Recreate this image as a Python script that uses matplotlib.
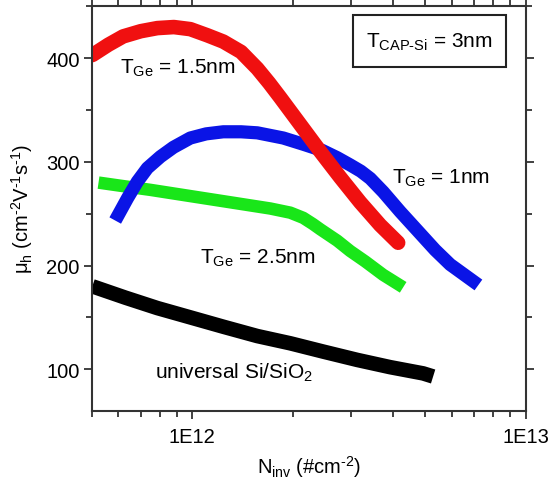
import numpy as np
import matplotlib
matplotlib.use('Agg')
import matplotlib.pyplot as plt
from matplotlib.patches import Rectangle
from matplotlib.ticker import LogLocator, FixedLocator, MultipleLocator, NullFormatter

plt.rcParams['font.family'] = ['Liberation Sans', 'DejaVu Sans']
plt.rcParams['mathtext.fontset'] = 'custom'
plt.rcParams['mathtext.rm'] = 'Liberation Sans'
plt.rcParams['mathtext.it'] = 'Liberation Sans:italic'

# T_Ge = 1.5nm (red)
n_red = [5.01e11, 5.6e11, 6.2e11, 7.0e11, 7.85e11, 8.8e11, 9.86e11, 1.11e12,
         1.238e12, 1.4e12, 1.566e12, 1.7e12, 1.835e12, 2.107e12, 2.419e12,
         2.777e12, 3.187e12, 3.660e12, 4.143e12]
mu_red = [403, 413, 421, 426, 429, 430, 428, 422, 416, 406, 390, 376, 362, 336,
          310, 285, 261, 239, 222]

# T_Ge = 1nm (blue)
n_blue = [6.00e11, 6.39e11, 6.84e11, 7.33e11, 8.02e11, 8.77e11, 9.86e11, 1.1e12,
          1.238e12, 1.4e12, 1.566e12, 1.874e12, 2.151e12, 2.453e12, 2.720e12,
          2.975e12, 3.2e12, 3.416e12, 3.737e12, 4.201e12, 4.725e12, 5.349e12,
          5.933e12, 6.951e12]
mu_blue = [249, 265, 281, 294, 305, 314, 323, 327, 329, 329, 328, 323, 317, 311,
           304, 297, 291, 284, 271, 252, 234, 215, 201, 185]

# T_Ge = 2.5nm (green)
n_green = [5.23e11, 6.08e11, 7.48e11, 9.86e11, 1.300e12, 1.713e12, 1.967e12,
           2.151e12, 2.3e12, 2.419e12, 2.720e12, 2.975e12, 3.299e12, 3.737e12,
           4.289e12]
mu_green = [280, 277, 273, 267, 261, 255, 251, 246, 240, 235, 224, 214, 204, 191,
            179]

# universal Si/SiO2 (black)
n_univ = [5.01e11, 6.30e11, 7.85e11, 9.86e11, 1.238e12, 1.566e12, 1.967e12,
          2.470e12, 3.122e12, 3.921e12, 4.923e12, 5.275e12]
mu_univ = [180, 169, 159, 150, 141, 132, 125, 117, 109, 102, 96, 93]

fig = plt.figure(figsize=(5.52, 4.85), dpi=100)
ax = fig.add_axes([0.1667, 0.1511, 0.7857, 0.8338])

ax.plot(n_univ, mu_univ, color='black', lw=10.5, solid_capstyle='butt', solid_joinstyle='round')
ax.plot(n_green, mu_green, color='#19e619', lw=9, solid_capstyle='butt', solid_joinstyle='round')
ax.plot(n_blue, mu_blue, color='#0a14e6', lw=9.5, solid_capstyle='projecting', solid_joinstyle='round')
ax.plot(n_red, mu_red, color='#f01010', lw=10.5, solid_capstyle='round', solid_joinstyle='round')

ax.set_xscale('log')
ax.set_xlim(5e11, 1e13)
ax.set_ylim(60, 450)

ax.xaxis.set_major_locator(FixedLocator([1e12, 1e13]))
ax.set_xticklabels(['1E12', '1E13'])
ax.xaxis.set_minor_locator(LogLocator(base=10, subs=np.arange(2, 10)))
ax.xaxis.set_minor_formatter(NullFormatter())
ax.yaxis.set_major_locator(MultipleLocator(100))
ax.yaxis.set_minor_locator(MultipleLocator(50))

ax.tick_params(which='both', labelsize=14.5, colors='#333333', labelcolor='black', width=1.3)
ax.tick_params(axis='x', which='both', top=True, bottom=True)
ax.tick_params(axis='y', which='both', left=True, right=True)
ax.tick_params(which='major', length=6, pad=3)
ax.tick_params(which='minor', length=4)
ax.tick_params(axis='x', which='major', pad=6)
ax.tick_params(axis='x', which='both', labeltop=False)
for s in ax.spines.values():
    s.set_linewidth(1.5)
    s.set_color('#333333')

ax.set_xlabel(r'N$_{\rm inv}$ (#cm$^{\text{-}2}$)', fontsize=14.5, labelpad=5)
ax.set_ylabel(r'μ$_{\rm h}$ (cm$^{\text{-}2}$V$^{\text{-}1}$s$^{\text{-}1}$)', fontsize=14.5, labelpad=8)

ax.text(6.08e11, 386, r'T$_{\rm Ge}$ = 1.5nm', fontsize=15, va='baseline')
ax.text(3.97e12, 280, r'T$_{\rm Ge}$ = 1nm', fontsize=15, va='baseline')
ax.text(1.057e12, 203, r'T$_{\rm Ge}$ = 2.5nm', fontsize=15, va='baseline')
ax.text(7.74e11, 92, r'universal Si/SiO$_{\rm 2}$', fontsize=15, va='baseline')

ax.add_patch(Rectangle((0.602, 0.850), 0.3526, 0.1285, transform=ax.transAxes,
                       fill=False, ec='#222222', lw=1.5))
ax.text(0.778, 0.914, r'T$_{\rm CAP\text{-}Si}$ = 3nm', transform=ax.transAxes,
        fontsize=15, ha='center', va='center')

fig.savefig('out.png', dpi=100)
